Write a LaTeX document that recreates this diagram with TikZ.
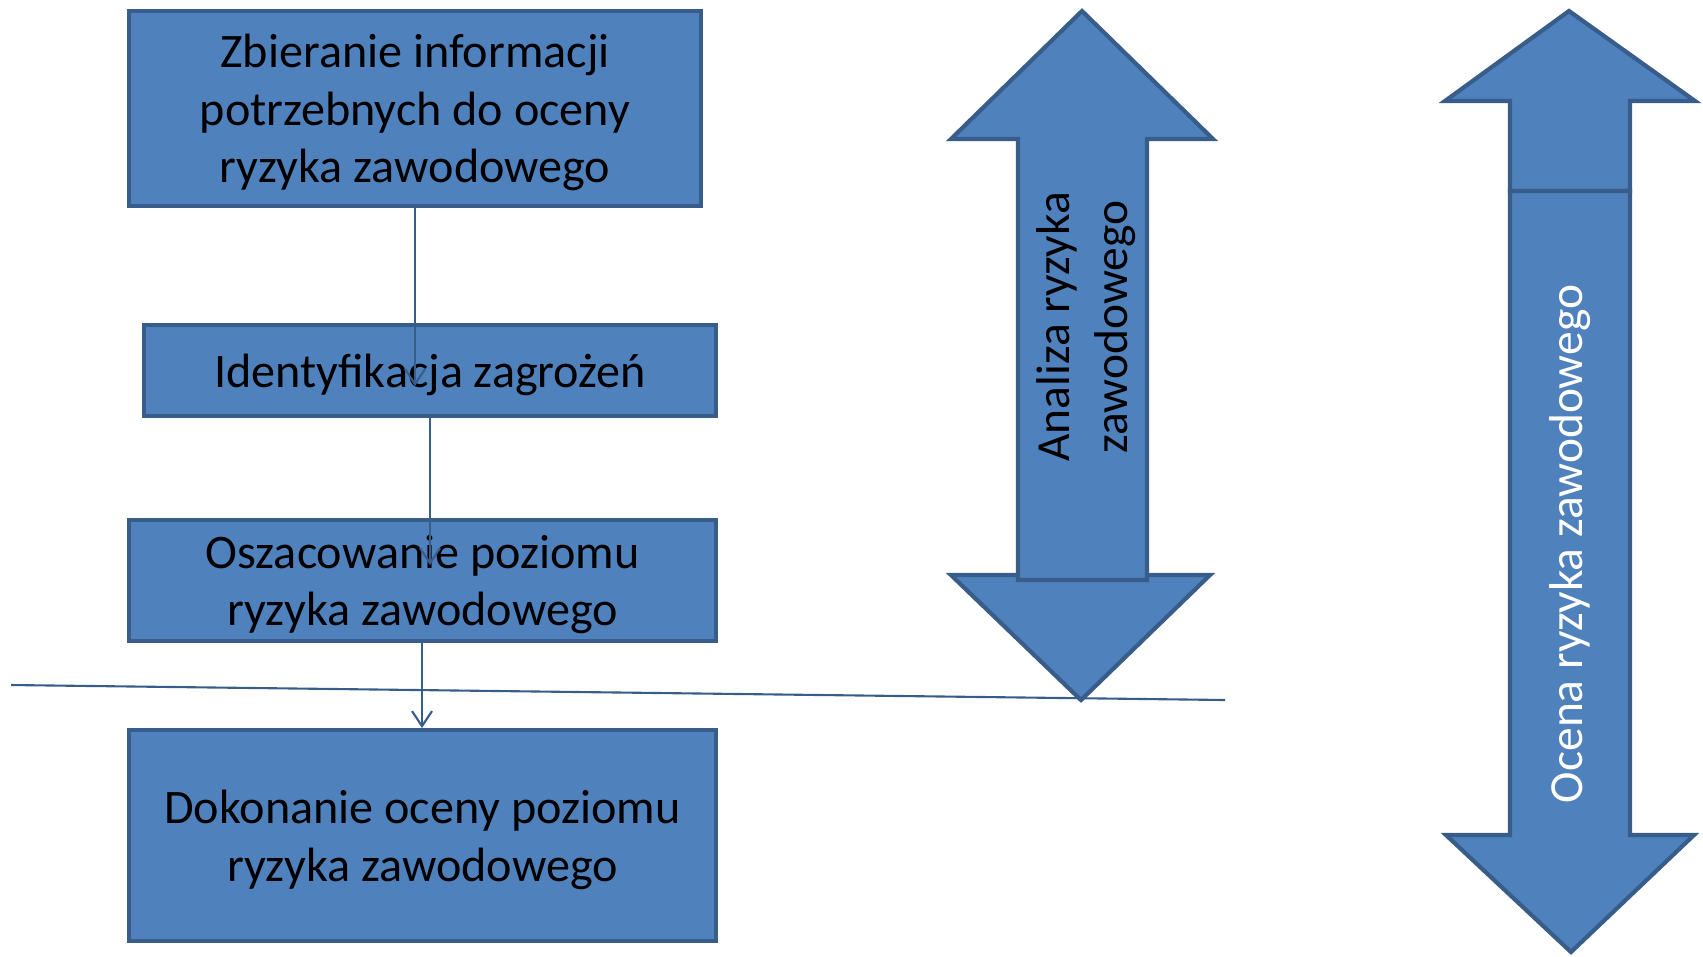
\documentclass[tikz,border=0pt]{standalone}
\usepackage{fontspec}
\setmainfont{Carlito}
\usetikzlibrary{arrows.meta,positioning}
\definecolor{boxblue}{HTML}{4F81BD}
\definecolor{edgeblue}{HTML}{385D8A}

\begin{document}
\begin{tikzpicture}[x=0.1mm,y=-0.1mm,
  stage/.style={draw=edgeblue,fill=boxblue,line width=1.2pt,align=center,
    inner sep=0pt,text depth=0pt,font=\fontsize{13.7}{16.4}\selectfont},
  link/.style={draw=edgeblue,line width=0.6pt,-{Straight Barb[length=1.5mm,width=2mm]}},
  bigarrow/.style={draw=edgeblue,fill=boxblue,line width=1.2pt,line join=miter},
  tag/.style={rotate=90,align=center,font=\fontsize{13.5}{16.4}\selectfont}]
  \useasboundingbox (0,0) rectangle (1703,956);
  %draw the stages
  \node [stage,minimum width=57.2mm,minimum height=19.5mm] (zb) at (415,108.5)
    {Zbieranie informacji\\potrzebnych do oceny\\ryzyka zawodowego};
  \node [stage,minimum width=57.2mm,minimum height=9.1mm] (id) at (430,370.5)
    {Identyfikacja zagrożeń};
  \node [stage,minimum width=58.7mm,minimum height=12.1mm] (osz) at (422.5,580.5)
    {Oszacowanie poziomu\\ryzyka zawodowego};
  \node [stage,minimum width=58.7mm,minimum height=21.1mm] (dok) at (422.5,835.5)
    {Dokonanie oceny poziomu\\ryzyka zawodowego};
  %draw the links
  \coordinate (e1) at (415,386);
  \coordinate (e2) at (430,565);
  \coordinate (e3) at (422,728);
  \draw [link] (zb.south -| e1) -- (e1);
  \draw [link] (id.south -| e2) -- (e2);
  \draw [link] (osz.south -| e3) -- (e3);
  %draw the dividing line
  \coordinate (cutL) at (11,685);
  \coordinate (cutR) at (1225,700);
  \draw [edgeblue,line width=0.6pt] (cutL) -- (cutR);
  %draw analysis arrow
  \draw [bigarrow] (951,575) -- (1210,575) -- (1081,700) -- cycle;
  \draw [bigarrow] (1082,11) -- (1213,139) -- (1147,139) -- (1147,580)
    -- (1018,580) -- (1018,139) -- (951,139) -- cycle;
  \node [tag] (an) at (1086,327) {Analiza ryzyka\\zawodowego};
  %draw assessment arrow
  \draw [bigarrow] (1569,11) -- (1695,101) -- (1630,101) -- (1630,191)
    -- (1510,191) -- (1510,101) -- (1445,101) -- cycle;
  \draw [bigarrow] (1510,191) -- (1630,191) -- (1630,835) -- (1694,835)
    -- (1571,952) -- (1446,835) -- (1510,835) -- cycle;
  \node [tag,white] (oc) at (1570,544) {Ocena ryzyka zawodowego};
\end{tikzpicture}
\end{document}
